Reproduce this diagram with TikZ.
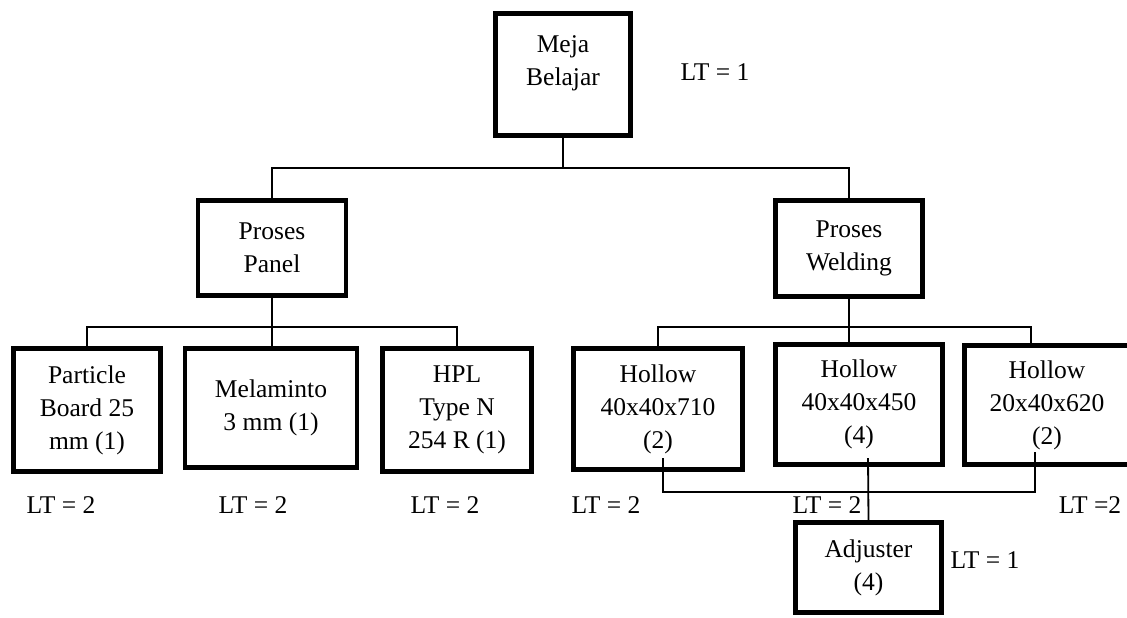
\documentclass[tikz,border=0pt]{standalone}
\usepackage{fontspec}
\setmainfont{Liberation Serif}
\newcommand{\upx}{0.47pt}

\begin{document}
\begin{tikzpicture}[x=0.47pt, y=-0.47pt,
    every node/.style={align=center, font=\fontsize{12}{15.5}\selectfont},
    kotak/.style 2 args={draw, line width=2.3pt, inner sep=0pt,
        minimum width=#1*\upx, minimum height=#2*\upx},
    garis/.style={line width=0.85pt}]

\useasboundingbox (0,0) rectangle (1127,617);
\clip (0,0) rectangle (1127,617);

% produk akhir
\node[kotak={135}{122}] (meja) at (563,74.5) {};
\node (mejateks) at (563,63) {Meja\\Belajar};
\node (lt0) at (715,72) {LT = 1};

% proses
\node[kotak={148}{95}] (panel) at (272,248) {Proses\\Panel};
\node[kotak={147}{96}] (welding) at (849,248.5) {Proses\\Welding};

% komponen
\node[kotak={147}{123}] (particle) at (87,410) {Particle\\Board 25\\mm (1)};
\node[kotak={172}{119}] (melaminto) at (271,408) {Melaminto\\3 mm (1)};
\node[kotak={149}{123}] (hpl) at (457,410) {HPL\\Type N\\254 R (1)};

\node[kotak={169}{121}] (h710) at (658,409) {Hollow\\40x40x710\\(2)};
\node[kotak={167}{120}] (h450) at (859,404.5) {Hollow\\40x40x450\\(4)};
\node[kotak={165}{119}] (h620) at (1047,405) {Hollow\\20x40x620\\(2)};

\node[kotak={146}{90}] (adjuster) at (868.5,567.5) {Adjuster\\(4)};
\node (lt3) at (985,560) {LT = 1};

% lead time
\foreach \x/\n in {61/a, 253/b, 445/c, 606/d, 827/e}
{
    \node (lt\n) at (\x,505) {LT = 2};
}
\node (ltf) at (1090,505) {LT =2};

% garis penghubung
\coordinate (bus0) at (0,168);
\coordinate (bus1) at (0,327);
\coordinate (bus2) at (0,492);
\coordinate (k620) at ([xshift=-7.5pt]h620.north);

\draw[garis] (meja.south) -- (meja.south |- bus0);
\draw[garis] (panel.north) |- (welding.north |- bus0) -- (welding.north);

\draw[garis] (particle.north) |- (hpl.north |- bus1) -- (hpl.north);
\draw[garis] (panel.south) -- (panel.south |- melaminto.north);

\draw[garis] (h710.north) |- (k620 |- bus1) -- (k620);
\draw[garis] (welding.south) -- (welding.south |- h450.north);

% hollow ke adjuster
\coordinate (b710) at (663,458);
\coordinate (b450) at (868,458);
\coordinate (b620) at (1035,452);

\draw[garis] (b710) |- (b620 |- bus2) -- (b620);
\draw[garis] (b450) -- (adjuster.north);

\end{tikzpicture}
\end{document}
